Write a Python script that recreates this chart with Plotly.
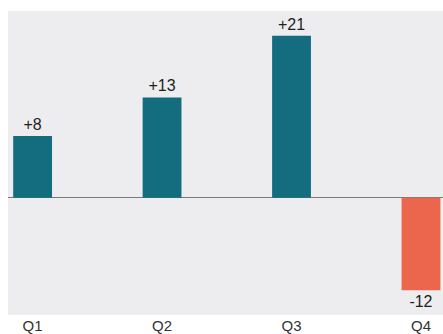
import plotly.graph_objects as go

quarters = ["Q1", "Q2", "Q3", "Q4"]
changes = [8, 13, 21, -12]
labels = ["+8", "+13", "+21", "-12"]

POS = "#146d7f"
NEG = "#ec654d"
bar_colors = [POS if v >= 0 else NEG for v in changes]

fig = go.Figure(
    go.Bar(
        x=quarters,
        y=changes,
        width=0.3,
        marker=dict(color=bar_colors, line=dict(width=0)),
        text=labels,
        textposition="outside",
        textfont=dict(size=16, color="#1e1e1e", family="Liberation Sans, Arial, sans-serif"),
        cliponaxis=False,
    )
)

fig.update_layout(
    width=443,
    height=334,
    margin=dict(l=8, r=0, t=11, b=17),
    paper_bgcolor="#ffffff",
    plot_bgcolor="#ededf0",
    showlegend=False,
    font=dict(family="Liberation Sans, Arial, sans-serif", size=14, color="#333333"),
    uniformtext=dict(minsize=16, mode="show"),
)
fig.update_xaxes(
    range=[-0.19, 3.17],
    showgrid=False,
    showline=False,
    ticks="",
    tickfont=dict(size=15, color="#333333"),
)
fig.update_yaxes(
    range=[-15.2, 24.2],
    showgrid=False,
    showticklabels=False,
    zeroline=True,
    zerolinecolor="#7a7a7a",
    zerolinewidth=1,
)

fig.write_html("out.html")
